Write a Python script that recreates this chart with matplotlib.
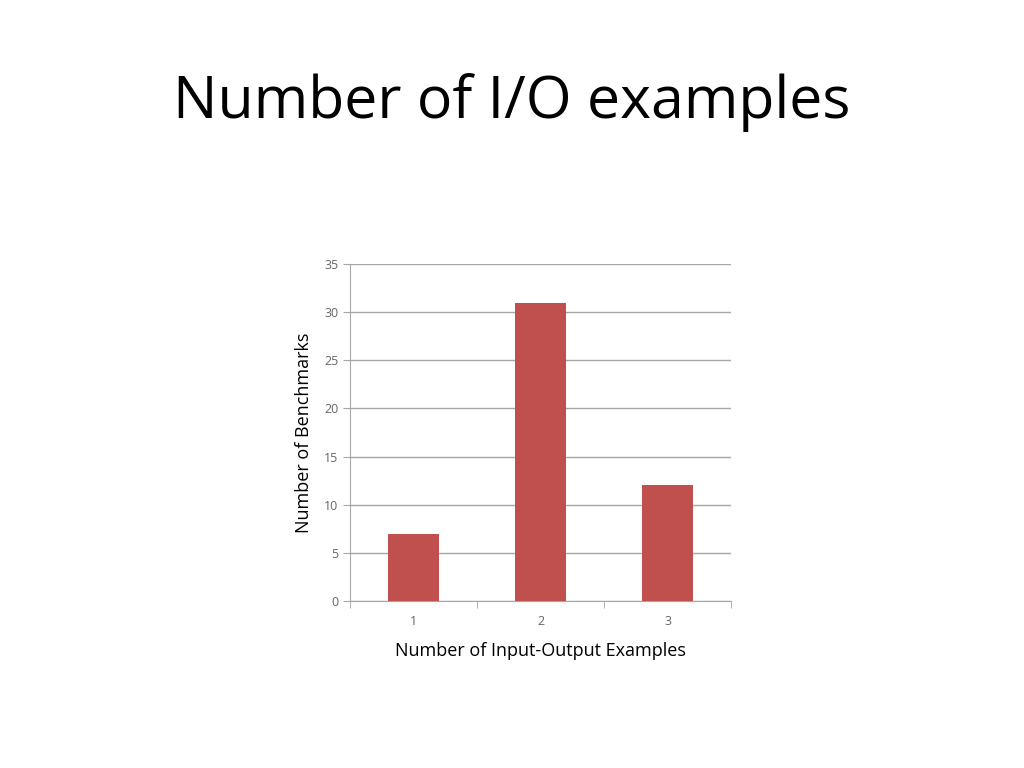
import matplotlib
matplotlib.use('Agg')
import matplotlib.pyplot as plt

# data
categories = ['1', '2', '3']
benchmarks = [7, 31, 12]
y_ticks = [0, 5, 10, 15, 20, 25, 30, 35]

plt.rcParams['font.family'] = ['Open Sans', 'DejaVu Sans']

fig = plt.figure(figsize=(10.24, 7.68), dpi=100)
fig.text(0.5, 0.866, 'Number of I/O examples', ha='center', va='center',
         fontsize=42.5, color='black')

ax = fig.add_axes([0.3418, 0.2174, 0.3721, 0.4388])
x = list(range(len(categories)))
ax.bar(x, benchmarks, width=0.4, color='#C0504D', zorder=3)

ax.set_xlim(-0.5, len(categories) - 0.5)
ax.set_ylim(0, 35)
ax.set_yticks(y_ticks)
ax.set_xticks(x)
ax.set_xticklabels(categories)
ax.set_xticks([i - 0.5 for i in range(len(categories) + 1)], minor=True)

ax.grid(axis='y', color='#A6A6A6', linewidth=1, zorder=0)
for side in ['top', 'right']:
    ax.spines[side].set_visible(False)
for side in ['left', 'bottom']:
    ax.spines[side].set_color('#A6A6A6')

ax.tick_params(axis='x', which='major', length=0, pad=10, labelsize=9, labelcolor='#666666')
ax.tick_params(axis='x', which='minor', length=5, color='#A6A6A6', direction='out')
ax.tick_params(axis='y', length=5, color='#A6A6A6', labelsize=9, labelcolor='#666666')

ax.set_xlabel('Number of Input-Output Examples', fontsize=13, labelpad=10)
ax.set_ylabel('Number of Benchmarks', fontsize=13, labelpad=8)

fig.savefig('out.png', dpi=100)
